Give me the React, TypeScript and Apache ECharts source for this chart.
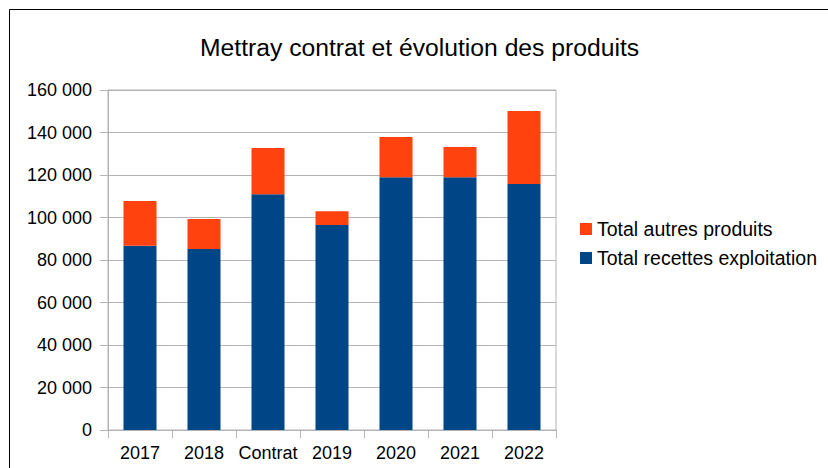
import React, { useEffect, useRef } from "react";
import * as echarts from "echarts";

const categories = ["2017", "2018", "Contrat", "2019", "2020", "2021", "2022"];
const recettesExploitation = [86700, 85200, 111000, 96500, 119000, 119000, 115800];
const autresProduits = [21100, 14100, 21700, 6500, 18900, 14200, 34300];
const seriesNames = ["Total recettes exploitation", "Total autres produits"];
const titleText = "Mettray contrat et évolution des produits";

const fmt = (v: number) => String(v).replace(/\B(?=(\d{3})+(?!\d))/g, " ");

export default function App() {
  const ref = useRef<HTMLDivElement>(null);
  useEffect(() => {
    document.body.style.margin = "0";
    const chart = echarts.init(ref.current!, null, { renderer: "svg" });
    const font = "Liberation Sans";
    chart.setOption({
      animation: false,
      backgroundColor: "#fff",
      textStyle: { fontFamily: font },
      title: {
        text: titleText,
        left: 200,
        top: 35,
        padding: 0,
        textStyle: { fontFamily: font, fontSize: 24.7, fontWeight: "normal", color: "#000" },
      },
      graphic: [
        {
          type: "rect",
          shape: { x: 9.5, y: 9.5, width: 900, height: 600 },
          style: { fill: "none", stroke: "#000", lineWidth: 1 },
          silent: true,
        },
      ],
      legend: {
        orient: "vertical",
        left: 580,
        top: 219,
        padding: 0,
        itemWidth: 12,
        itemHeight: 12,
        itemGap: 9,
        icon: "rect",
        data: [seriesNames[1], seriesNames[0]],
        textStyle: { fontFamily: font, fontSize: 19.5, color: "#000" },
      },
      grid: {
        left: 108,
        right: 272,
        top: 90,
        bottom: 38,
        show: true,
        borderColor: "#b3b3b3",
        borderWidth: 1,
      },
      xAxis: {
        type: "category",
        data: categories,
        boundaryGap: true,
        axisLine: { show: true, lineStyle: { color: "#b3b3b3" } },
        axisTick: { show: true, length: 8, interval: 0, alignWithLabel: false, lineStyle: { color: "#b3b3b3" } },
        axisLabel: { fontFamily: font, fontSize: 18, color: "#000", margin: 14, interval: 0 },
      },
      yAxis: {
        type: "value",
        min: 0,
        max: 160000,
        interval: 20000,
        axisLine: { show: true, lineStyle: { color: "#b3b3b3" } },
        axisTick: { show: true, length: 8, lineStyle: { color: "#b3b3b3" } },
        splitLine: { show: true, lineStyle: { color: "#b3b3b3" } },
        axisLabel: { fontFamily: font, fontSize: 18, color: "#000", margin: 16, formatter: (v: number) => fmt(v) },
      },
      series: [
        {
          name: seriesNames[0],
          type: "bar",
          stack: "total",
          barWidth: 33,
          data: recettesExploitation,
          itemStyle: { color: "#004586" },
        },
        {
          name: seriesNames[1],
          type: "bar",
          stack: "total",
          barWidth: 33,
          data: autresProduits,
          itemStyle: { color: "#ff420e" },
        },
      ],
    });
    return () => chart.dispose();
  }, []);
  return <div ref={ref} style={{ width: 828, height: 468 }} />;
}
